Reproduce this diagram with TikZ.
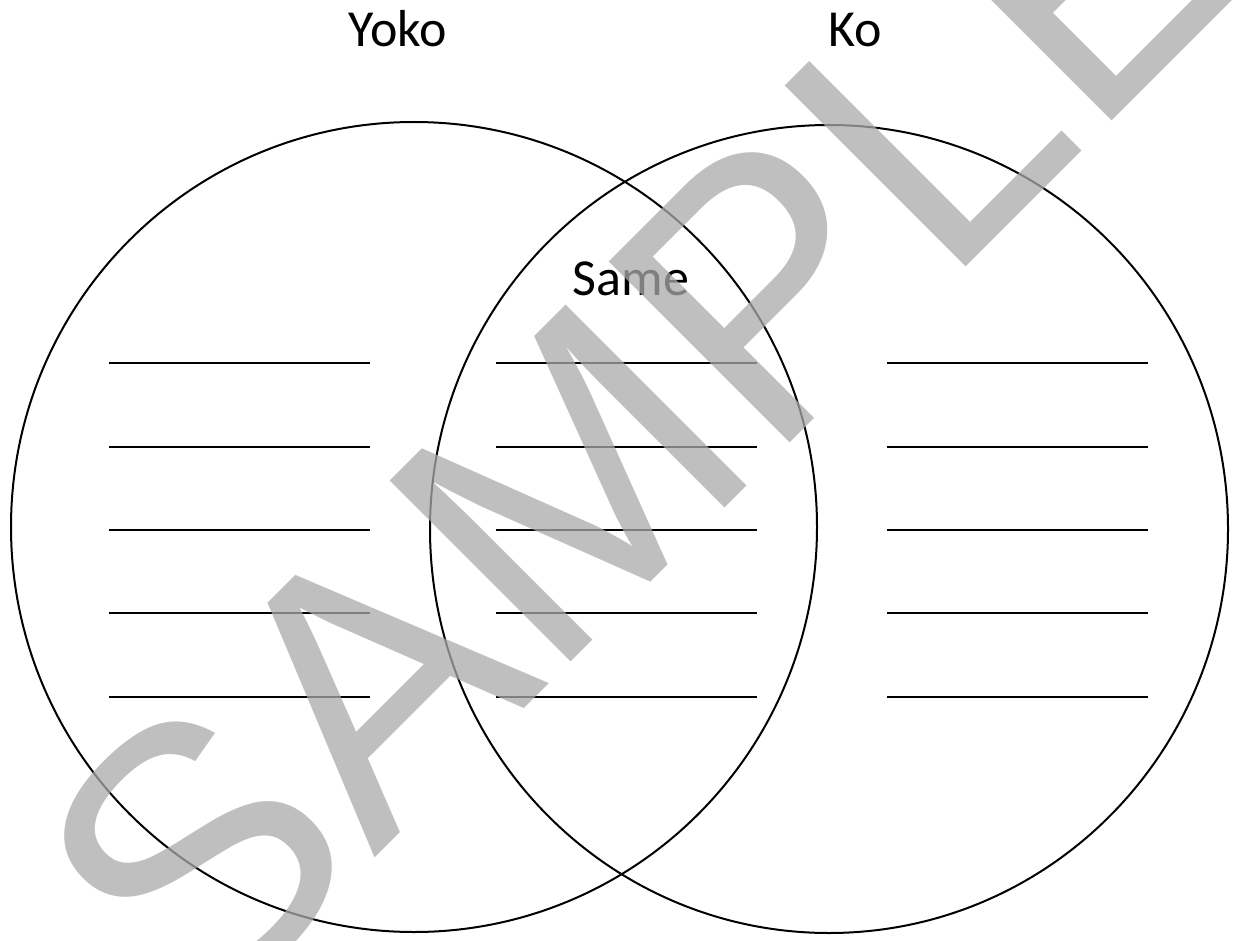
\documentclass[tikz,border=0pt]{standalone}
\usepackage{fontspec}
\newfontfamily\labelfont{Carlito}
\newfontfamily\markfont{Liberation Sans}

\begin{document}
\begin{tikzpicture}[x=1pt,y=-1pt,
	ring/.style={line width=2pt},
	blank/.style={line width=2.6pt},
	title/.style={font=\labelfont\fontsize{52}{60}\selectfont, inner sep=0pt, anchor=base}]
	
	% ---- Adjustable colors ----
	\definecolor{markgray}{RGB}{170,170,170}
	
	% ---- Page ----
	\fill[white] (0,0) rectangle (1236,941);
	\useasboundingbox (0,0) rectangle (1236,941);
	
	% ---- The two circles ----
	\coordinate (cYoko) at (414,527);
	\coordinate (cKo) at (829,529);
	\draw[ring] (cYoko) ellipse [x radius=403, y radius=405];
	\draw[ring] (cKo) ellipse [x radius=399, y radius=404];
	
	% ---- Titles ----
	\node[title] (tYoko) at (398,47) {Yoko};
	\node[title] (tKo) at (855,47) {Ko};
	\node[title] (tSame) at (631,295) {Same};
	
	% ---- Writing lines (3 groups, 5 rows) ----
	\foreach \g/\xa/\xb in {Y/109/370, S/496/757, K/887/1148}
	\foreach \r/\y in {1/363, 2/447, 3/530, 4/613, 5/697}
	{
		\coordinate (\g\r w) at (\xa,\y);
		\coordinate (\g\r e) at (\xb,\y);
		\draw[blank] (\g\r w) -- (\g\r e);
	}
	
	% ---- Watermark ----
	\node[font=\markfont\fontsize{372}{372}\selectfont, text=markgray,
		text opacity=0.75, inner sep=0pt, rotate=45, anchor=base]
		(mark) at (732.5,500.5) {SAMPLE};
	
\end{tikzpicture}
\end{document}
